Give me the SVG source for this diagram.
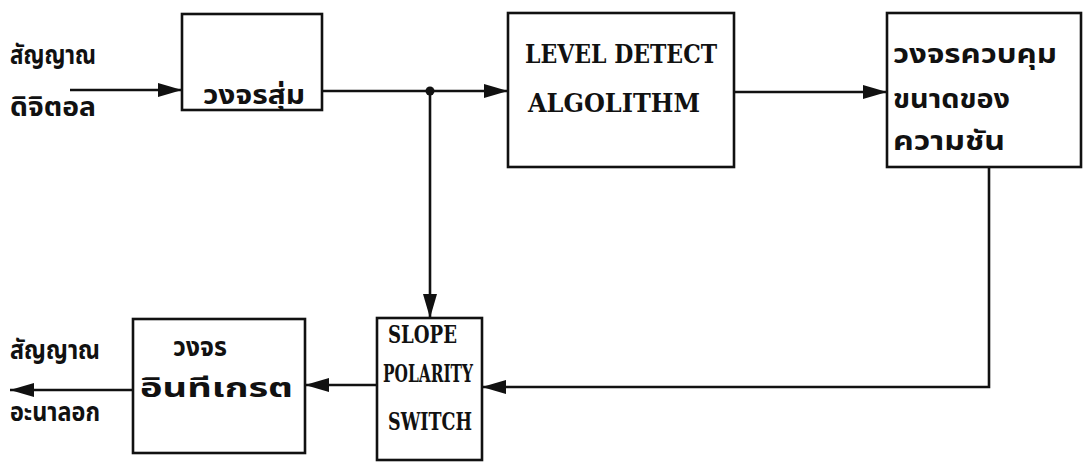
<svg xmlns="http://www.w3.org/2000/svg" width="1084" height="465" viewBox="0 0 1084 465">
<style>
.box{fill:#fff;stroke:#111;stroke-width:2.6}
.ln{fill:none;stroke:#111;stroke-width:2.6}
.th{font-family:"Noto Sans Thai","Noto Sans","DejaVu Sans",sans-serif;font-size:27px;font-weight:bold;fill:#111}
.en{font-family:"DejaVu Serif","Liberation Serif",serif;font-weight:bold;font-size:26px;fill:#111}
.en2{font-family:"DejaVu Serif","Liberation Serif",serif;font-weight:bold;font-size:24px;fill:#111}
</style>
<defs>
<marker id="ah" markerWidth="24" markerHeight="14" refX="24" refY="7" orient="auto" markerUnits="userSpaceOnUse">
<path d="M0,0 L24,7 L0,14 Z" fill="#111"/>
</marker>
</defs>
<rect width="1084" height="465" fill="#fff"/>
<g id="connectors">
<line class="ln" x1="70" y1="90" x2="182" y2="90" marker-end="url(#ah)"/>
<line class="ln" x1="322" y1="91" x2="508" y2="91" marker-end="url(#ah)"/>
<circle cx="430" cy="91" r="4.5" fill="#111"/>
<line class="ln" x1="430" y1="91" x2="430" y2="318" marker-end="url(#ah)"/>
<line class="ln" x1="734" y1="92" x2="887" y2="92" marker-end="url(#ah)"/>
<polyline class="ln" points="989,167 989,387 482,387" marker-end="url(#ah)"/>
<line class="ln" x1="377" y1="385" x2="305" y2="385" marker-end="url(#ah)"/>
<line class="ln" x1="133" y1="390" x2="10" y2="390" marker-end="url(#ah)"/>
</g>
<g id="in-label">
<text class="th" x="10" y="64" textLength="86" lengthAdjust="spacingAndGlyphs">สัญญาณ</text>
<text class="th" x="10" y="116" textLength="86" lengthAdjust="spacingAndGlyphs">ดิจิตอล</text>
</g>
<g id="n1">
<rect class="box" x="182" y="14" width="140" height="96"/>
<text class="th" x="203" y="104" textLength="102" lengthAdjust="spacingAndGlyphs">วงจรสุ่ม</text>
</g>
<g id="n2">
<rect class="box" x="508" y="13" width="226" height="154"/>
<text class="en" x="525" y="63" textLength="192" lengthAdjust="spacingAndGlyphs">LEVEL DETECT</text>
<text class="en" x="528" y="112" textLength="172" lengthAdjust="spacingAndGlyphs">ALGOLITHM</text>
</g>
<g id="n3">
<rect class="box" x="887" y="13" width="194" height="154"/>
<text class="th" x="893" y="63" textLength="164" lengthAdjust="spacingAndGlyphs">วงจรควบคุม</text>
<text class="th" x="893" y="108" textLength="117" lengthAdjust="spacingAndGlyphs">ขนาดของ</text>
<text class="th" x="893" y="150" textLength="112" lengthAdjust="spacingAndGlyphs">ความชัน</text>
</g>
<g id="n4">
<rect class="box" x="377" y="318" width="105" height="142"/>
<text class="en2" x="388" y="343" textLength="69" lengthAdjust="spacingAndGlyphs">SLOPE</text>
<text class="en2" x="383" y="382" textLength="90" lengthAdjust="spacingAndGlyphs">POLARITY</text>
<text class="en2" x="388" y="430" textLength="84" lengthAdjust="spacingAndGlyphs">SWITCH</text>
</g>
<g id="n5">
<rect class="box" x="133" y="319" width="172" height="134"/>
<text class="th" x="173" y="356" textLength="54" lengthAdjust="spacingAndGlyphs">วงจร</text>
<text class="th" x="140" y="397" textLength="153" lengthAdjust="spacingAndGlyphs">อินทีเกรต</text>
</g>
<g id="out-label">
<text class="th" x="10" y="359" textLength="90" lengthAdjust="spacingAndGlyphs">สัญญาณ</text>
<text class="th" x="10" y="421" textLength="90" lengthAdjust="spacingAndGlyphs">อะนาลอก</text>
</g>
</svg>
